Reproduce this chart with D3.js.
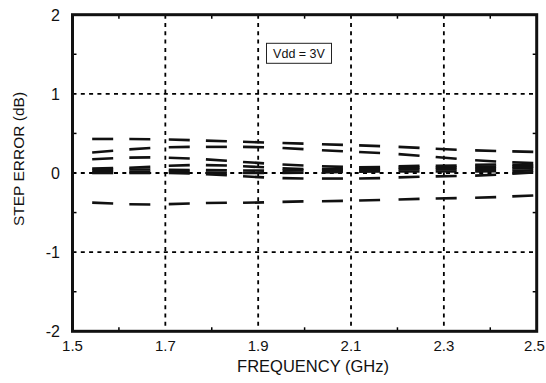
<!DOCTYPE html>
<html><head><meta charset="utf-8">
<script src="https://cdn.jsdelivr.net/npm/d3@7"></script>
<style>body{margin:0;background:#fff}svg{display:block}text{font-family:"Liberation Sans",Arial,sans-serif;fill:#111}</style>
</head><body><svg id="c" width="546" height="383"></svg>
<script>
const freqs = [1.565, 1.645, 1.73, 1.81, 1.89, 1.975, 2.06, 2.14, 2.225, 2.305, 2.39, 2.47];
const s1 = [0.43, 0.43, 0.42, 0.405, 0.39, 0.375, 0.36, 0.345, 0.325, 0.30, 0.28, 0.27];
const s2 = [0.27, 0.31, 0.33, 0.33, 0.33, 0.31, 0.28, 0.26, 0.23, 0.19, 0.15, 0.13];
const s3 = [0.18, 0.20, 0.19, 0.165, 0.13, 0.10, 0.08, 0.07, 0.09, 0.09, 0.11, 0.10];
const s4 = [0.06, 0.07, 0.10, 0.10, 0.08, 0.05, 0.05, 0.05, 0.07, 0.07, 0.08, 0.08];
const s5 = [0.04, 0.045, 0.04, 0.035, 0.03, 0.03, 0.04, 0.04, 0.05, 0.05, 0.05, 0.06];
const s6 = [0.01, 0.015, 0.02, 0.0, 0.0, 0.0, 0.01, 0.02, 0.02, 0.02, 0.02, 0.03];
const s7 = [0.0, 0.0, 0.0, -0.02, -0.05, -0.07, -0.07, -0.07, -0.05, -0.04, -0.03, 0.0];
const s8 = [-0.38, -0.40, -0.39, -0.376, -0.376, -0.36, -0.355, -0.345, -0.33, -0.32, -0.31, -0.29];
const seriesList = [s1, s2, s3, s4, s5, s6, s7, s8];
const xTicks = [1.5, 1.7, 1.9, 2.1, 2.3, 2.5];
const xMinor = [1.6, 1.8, 2.0, 2.2, 2.4];
const yTicks = [-2, -1, 0, 1, 2];
const yMinor = [-1.5, -0.5, 0.5, 1.5];
const xGrid = [1.7, 1.9, 2.1, 2.3];
const yGrid = [-1, 0, 1];
const xTitle = "FREQUENCY (GHz)";
const yTitle = "STEP ERROR (dB)";
const note = "Vdd = 3V";

const L = 72.5, R = 536.7, T = 14.7, B = 331.3;
const svg = d3.select("#c");
const x = d3.scaleLinear().domain([1.5, 2.5]).range([L, R]);
const y = d3.scaleLinear().domain([-2, 2]).range([B, T]);

// grid
const g = svg.append("g");
g.selectAll(".vg").data(xGrid).join("line")
  .attr("x1", d => x(d)).attr("x2", d => x(d)).attr("y1", T).attr("y2", B)
  .attr("stroke", "#000").attr("stroke-width", 1.8).attr("stroke-dasharray", "4,4.3");
g.selectAll(".hg").data(yGrid).join("line")
  .attr("x1", L).attr("x2", R).attr("y1", d => y(d)).attr("y2", d => y(d))
  .attr("stroke", "#000").attr("stroke-width", 1.8).attr("stroke-dasharray", "4,4.3");

// dashes
const half = 10.5;
seriesList.forEach(vals => {
  const interp = d3.scaleLinear().domain(freqs).range(vals);
  svg.append("g").selectAll("line").data(freqs).join("line")
    .attr("x1", f => x(f) - half).attr("x2", f => x(f) + half)
    .attr("y1", f => y(interp(x.invert(x(f) - half))))
    .attr("y2", f => y(interp(x.invert(x(f) + half))))
    .attr("stroke", "#111").attr("stroke-width", 2.6);
});

// minor ticks
const tl = 4;
svg.append("g").selectAll("line").data(xMinor).join("line")
  .attr("x1", d => x(d)).attr("x2", d => x(d)).attr("y1", B).attr("y2", B - tl)
  .attr("stroke", "#000").attr("stroke-width", 1.5);
svg.append("g").selectAll("line").data(xMinor).join("line")
  .attr("x1", d => x(d)).attr("x2", d => x(d)).attr("y1", T).attr("y2", T + tl)
  .attr("stroke", "#000").attr("stroke-width", 1.5);
svg.append("g").selectAll("line").data(yMinor).join("line")
  .attr("x1", L).attr("x2", L + tl).attr("y1", d => y(d)).attr("y2", d => y(d))
  .attr("stroke", "#000").attr("stroke-width", 1.5);
svg.append("g").selectAll("line").data(yMinor).join("line")
  .attr("x1", R).attr("x2", R - tl).attr("y1", d => y(d)).attr("y2", d => y(d))
  .attr("stroke", "#000").attr("stroke-width", 1.5);

// frame
svg.append("rect").attr("x", L).attr("y", T).attr("width", R - L).attr("height", B - T)
  .attr("fill", "none").attr("stroke", "#111").attr("stroke-width", 3);

// tick labels
svg.append("g").selectAll("text").data(xTicks).join("text")
  .attr("x", d => Math.min(x(d), 534.5)).attr("y", 351).attr("text-anchor", "middle")
  .style("font-size", "15px").text(d => d.toFixed(1));
svg.append("g").selectAll("text").data(yTicks).join("text")
  .attr("x", 60).attr("y", d => y(d) + 6).attr("text-anchor", "end")
  .style("font-size", "16px").text(d => String(d));

svg.append("text").attr("x", 313).attr("y", 372).attr("text-anchor", "middle")
  .style("font-size", "16.5px").text(xTitle);
svg.append("text").attr("transform", `translate(24,${(T + B) / 2 - 14}) rotate(-90)`)
  .attr("text-anchor", "middle").style("font-size", "15.5px").text(yTitle);

// annotation box
const bx = 266.5, by = 43.3, bw = 65, bh = 20;
svg.append("rect").attr("x", bx).attr("y", by).attr("width", bw).attr("height", bh)
  .attr("fill", "#fff").attr("stroke", "#222").attr("stroke-width", 1);
svg.append("text").attr("x", bx + bw / 2).attr("y", by + 14.5).attr("text-anchor", "middle")
  .style("font-size", "12.5px").text(note);
</script></body></html>
